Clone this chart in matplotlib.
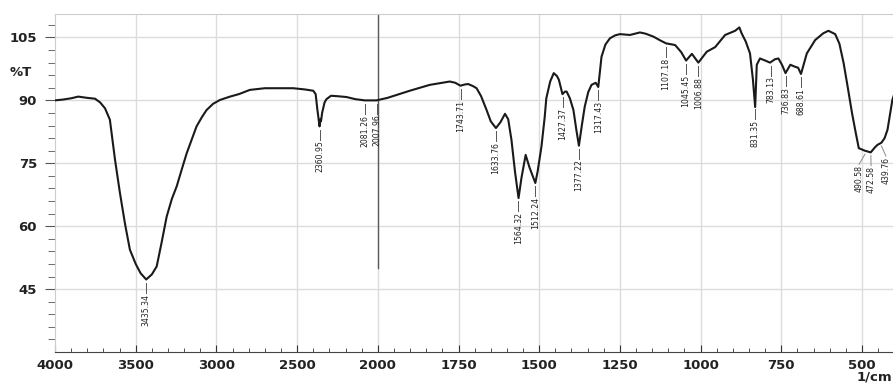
import numpy as np
import matplotlib
matplotlib.use('Agg')
import matplotlib.pyplot as plt
from matplotlib.ticker import FixedLocator

# spectrum (wavenumber in 1/cm, %T)
wavenumber = [4000, 3950, 3900, 3856, 3800, 3752, 3720, 3690, 3660, 3628,
              3598, 3566, 3536, 3500, 3470, 3435, 3400, 3370, 3340, 3308,
              3276, 3246, 3215, 3184, 3150, 3123, 3090, 3061, 3020, 2978,
              2916, 2860, 2793, 2700, 2600, 2524, 2450, 2400, 2385, 2375,
              2367, 2361, 2356, 2352, 2345, 2330, 2318, 2290, 2250, 2194,
              2140, 2081, 2040, 2008, 1970, 1930, 1901, 1870, 1839, 1800,
              1777, 1760, 1744, 1730, 1720, 1705, 1694, 1680, 1663, 1650,
              1634, 1620, 1606, 1596, 1586, 1575, 1564, 1555, 1542, 1530,
              1512, 1505, 1493, 1483, 1478, 1466, 1455, 1445, 1439, 1428,
              1420, 1415, 1405, 1394, 1385, 1377, 1368, 1359, 1348, 1338,
              1325, 1317, 1307, 1295, 1281, 1265, 1250, 1219, 1188, 1170,
              1146, 1125, 1107, 1079, 1060, 1045, 1027, 1007, 981, 955,
              924, 893, 880, 873, 860, 847, 838, 831, 826, 816,
              800, 785, 770, 759, 748, 737, 722, 707, 698, 689,
              671, 645, 620, 604, 583, 570, 557, 545, 531, 520,
              510, 491, 473, 460, 452, 440, 430, 421, 406, 400]
transmittance = [90.0, 90.2, 90.5, 90.9, 90.6, 90.4, 89.5, 88.1, 85.4, 75.8,
                 68.0, 60.5, 54.4, 51.0, 48.8, 47.3, 48.5, 50.4, 56.0, 62.3,
                 66.5, 69.5, 73.5, 77.4, 81.0, 83.8, 86.0, 87.7, 89.2, 90.1,
                 90.9, 91.5, 92.5, 92.9, 92.9, 92.9, 92.6, 92.3, 91.5, 88.0,
                 85.5, 83.8, 85.5, 85.0, 87.0, 89.5, 90.3, 91.1, 91.0, 90.8,
                 90.3, 90.0, 90.0, 90.0, 90.6, 91.6, 92.3, 93.0, 93.7, 94.2,
                 94.5, 94.2, 93.5, 93.8, 93.9, 93.4, 92.9, 91.0, 87.7, 85.0,
                 83.4, 84.8, 86.8, 85.5, 80.6, 73.0, 66.7, 71.5, 77.0, 74.0,
                 70.3, 73.0, 79.0, 86.0, 90.5, 94.5, 96.5, 95.8, 94.9, 91.5,
                 92.1, 92.1, 90.5, 87.7, 83.0, 79.2, 84.0, 88.5, 92.0, 93.7,
                 94.2, 93.2, 100.4, 103.3, 104.8, 105.5, 105.8, 105.6, 106.2, 105.9,
                 105.2, 104.3, 103.6, 103.2, 101.5, 99.5, 101.1, 99.0, 101.6, 102.7,
                 105.6, 106.6, 107.4, 106.0, 104.0, 101.2, 95.0, 88.4, 98.5, 100.0,
                 99.5, 99.0, 99.8, 100.0, 98.5, 96.5, 98.5, 98.0, 97.8, 96.3,
                 101.2, 104.4, 106.0, 106.6, 105.8, 103.5, 98.9, 93.5, 87.0, 82.5,
                 78.6, 78.0, 77.6, 78.8, 79.4, 79.9, 81.0, 83.0, 90.1, 91.5]

peak_labels = ['3435.34', '2360.95', '2081.26', '2007.96', '1743.71', '1633.76',
               '1564.32', '1512.24', '1427.37', '1377.22', '1317.43', '1107.18',
               '1045.45', '1006.88', '831.35', '783.13', '736.83', '688.61',
               '490.58', '472.58', '439.76']

x_ticks = [4000, 3500, 3000, 2500, 2000, 1750, 1500, 1250, 1000, 750, 500]
y_ticks = [45, 60, 75, 90, 105]

# crowded labels are pushed sideways, with a slanted leader
label_x = {'490.58': 509, '472.58': 472, '439.76': 426}


# scale halves above 2000 1/cm, like the instrument print-out
def fwd(w):
    w = np.asarray(w, dtype=float)
    return np.where(w >= 2000, (w - 2000) / 2.0, w - 2000)


def inv(t):
    t = np.asarray(t, dtype=float)
    return np.where(t >= 0, 2.0 * t + 2000, t + 2000)


fig = plt.figure(figsize=(8.93, 3.85), dpi=100)
ax = fig.add_axes([55 / 893, 33 / 385, 838 / 893, 338 / 385])
ax.set_xscale('function', functions=(fwd, inv))
ax.set_xlim(4000, 404)
ax.set_ylim(30, 110.6)

ax.plot(wavenumber, transmittance, color='#1a1a1a', lw=1.5, zorder=3)

# peak markers
wn_sorted = np.array(wavenumber[::-1], dtype=float)
tr_sorted = np.array(transmittance[::-1], dtype=float)
for lab in peak_labels:
    w = float(lab)
    t = np.interp(w, wn_sorted, tr_sorted)
    wt = label_x.get(lab, w)
    lc = '#8a8a8a' if lab in label_x else '#555555'
    ax.plot([w, wt], [t - 0.8, t - 3.2], color=lc, lw=0.7, zorder=2)
    ax.text(wt, t - 3.4, lab, rotation=90, ha='center', va='top',
            fontsize=5.6, color='#222222', family='DejaVu Sans')

# grid
for v in x_ticks[1:]:
    ax.axvline(v, color='#dcdcdc', lw=1.0, zorder=1)
for v in y_ticks:
    ax.axhline(v, color='#dcdcdc', lw=1.0, zorder=1)
# the scale-change marker at 2000 is dark only over its upper part
ax.axvline(2000, ymin=0.25, ymax=1.0, color='#5a5a5a', lw=1.0, zorder=1)

ax.xaxis.set_major_locator(FixedLocator(x_ticks))
ax.xaxis.set_minor_locator(FixedLocator(list(range(4000, 2000, -100)) + list(range(2000, 399, -50))))
ax.yaxis.set_major_locator(FixedLocator(y_ticks))
ax.yaxis.set_minor_locator(FixedLocator(list(range(33, 110, 3))))
ax.set_xticklabels([str(v) for v in x_ticks])
ax.set_yticklabels([str(v) for v in y_ticks])

ax.tick_params(axis='x', which='both', direction='in', top=False, color='#333333', pad=5,
               labelsize=9.5)
ax.tick_params(axis='x', which='major', length=5)
ax.tick_params(axis='x', which='minor', length=3)
ax.tick_params(axis='y', which='both', direction='out', right=False, color='#555555', pad=6,
               labelsize=9.5)
ax.tick_params(axis='y', which='major', length=7)
ax.tick_params(axis='y', which='minor', length=5)
for lbl in ax.get_xticklabels() + ax.get_yticklabels():
    lbl.set_fontweight('bold')
    lbl.set_color('#222222')

ax.spines['right'].set_visible(False)
ax.spines['top'].set_color('#cccccc')
ax.spines['left'].set_color('#cccccc')
ax.spines['bottom'].set_color('#444444')

fig.text(10 / 893, 1 - 72 / 385, '%T', fontsize=9.5, fontweight='bold', color='#222222',
         va='center', ha='left')
fig.text(892 / 893, 1 - 377 / 385, '1/cm', fontsize=9.5, fontweight='bold', color='#222222',
         va='center', ha='right')

fig.savefig('out.png', dpi=100)
